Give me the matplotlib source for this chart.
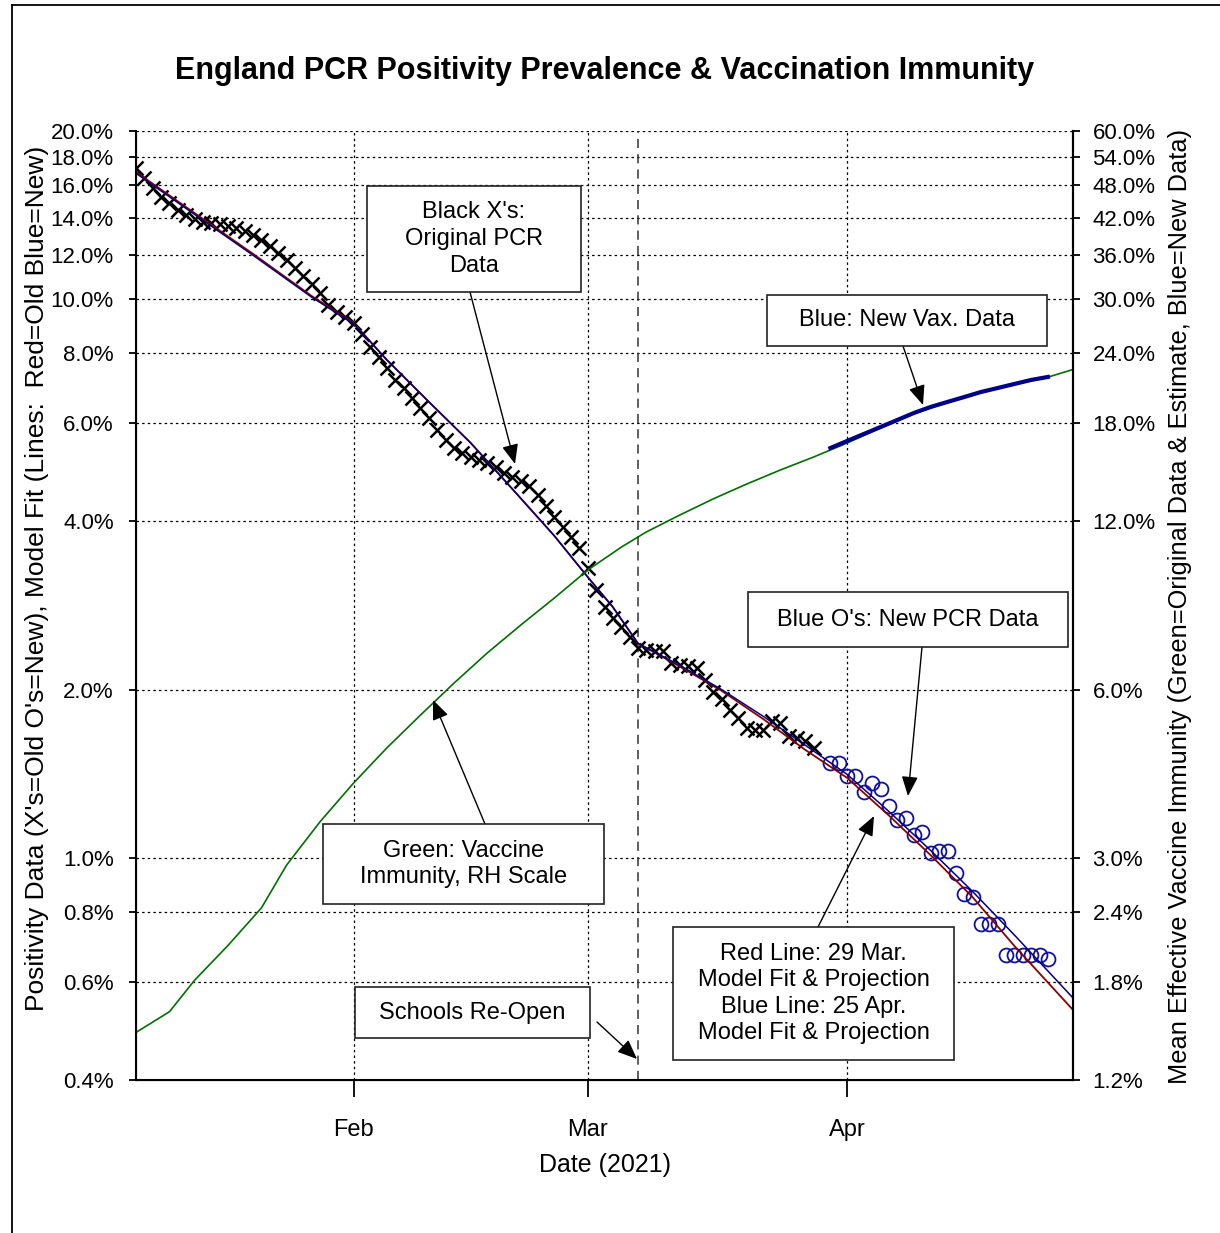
import pandas as pd
import matplotlib
matplotlib.use('Agg')
import matplotlib.pyplot as plt
from matplotlib.patches import Rectangle, FancyArrowPatch
from matplotlib.lines import Line2D
from matplotlib.ticker import FixedLocator, FuncFormatter, NullLocator

plt.rcParams['font.family'] = ['Liberation Sans', 'DejaVu Sans']

# original PCR positivity data (black X's), daily, %
pcr_old_dates = pd.date_range('2021-01-06', '2021-03-28')
pcr_old = [17.17, 16.48, 15.81, 15.24, 14.86, 14.44, 14.15, 13.91, 13.74, 13.69,
           13.63, 13.52, 13.41, 13.24, 13.03, 12.76, 12.45, 12.10, 11.75, 11.37,
           11.00, 10.64, 10.26, 9.76, 9.49, 9.29,
           9.07, 8.66, 8.21, 7.88, 7.53, 7.17, 6.93, 6.65, 6.38, 6.13,
           5.83, 5.59, 5.41, 5.30, 5.22, 5.15, 5.09, 5.01, 4.88, 4.80,
           4.72, 4.63, 4.46, 4.26, 4.07, 3.91, 3.75, 3.59,
           3.30, 3.02, 2.81, 2.69, 2.59, 2.48, 2.37, 2.35, 2.34, 2.34,
           2.23, 2.21, 2.20, 2.19, 2.08, 1.98, 1.92, 1.84, 1.78, 1.71,
           1.69, 1.69, 1.76, 1.74, 1.65, 1.64, 1.62, 1.57]

# new PCR positivity data (blue O's)
pcr_new_dates = pd.date_range('2021-03-30', '2021-04-25')
pcr_new = [1.48, 1.48, 1.40, 1.40, 1.31, 1.36, 1.33, 1.24, 1.17, 1.18,
           1.10, 1.11, 1.02, 1.03, 1.03, 0.94, 0.86, 0.85, 0.76, 0.76,
           0.76, 0.67, 0.67, 0.67, 0.67, 0.67, 0.66]

# model fits
fit_dates = pd.to_datetime(['2021-01-06', '2021-01-13', '2021-01-20', '2021-01-27',
                            '2021-02-01', '2021-02-05', '2021-02-10', '2021-02-15',
                            '2021-02-20', '2021-02-25', '2021-03-01', '2021-03-04',
                            '2021-03-07', '2021-03-12', '2021-03-17', '2021-03-22',
                            '2021-03-27', '2021-04-01', '2021-04-06', '2021-04-11',
                            '2021-04-16', '2021-04-21', '2021-04-28'])
fit_red = [16.89, 14.26, 12.05, 10.13, 9.07, 7.78, 6.55, 5.53, 4.57, 3.77, 3.18, 2.81,
           2.42, 2.20, 1.99, 1.77, 1.56, 1.39, 1.19, 1.01, 0.85, 0.695, 0.534]
fit_blue = [16.80, 14.18, 11.98, 10.08, 9.04, 7.78, 6.55, 5.53, 4.57, 3.77, 3.18, 2.81,
            2.42, 2.21, 2.00, 1.79, 1.59, 1.41, 1.21, 1.03, 0.87, 0.727, 0.561]

# vaccine immunity (right scale), %
vax_dates = pd.to_datetime(['2021-01-06', '2021-01-10', '2021-01-13', '2021-01-17',
                            '2021-01-21', '2021-01-24', '2021-01-28', '2021-02-01',
                            '2021-02-05', '2021-02-09', '2021-02-13', '2021-02-17',
                            '2021-02-21', '2021-02-25', '2021-03-01', '2021-03-05',
                            '2021-03-08', '2021-03-12', '2021-03-16', '2021-03-20',
                            '2021-03-24', '2021-03-28', '2021-04-01', '2021-04-05',
                            '2021-04-09', '2021-04-13', '2021-04-17', '2021-04-21',
                            '2021-04-25', '2021-04-28'])
vax_orig = [1.46, 1.59, 1.81, 2.09, 2.44, 2.91, 3.48, 4.08, 4.72, 5.40,
            6.16, 6.98, 7.83, 8.75, 9.82, 10.79, 11.49, 12.32, 13.17, 14.00,
            14.83, 15.65, 16.58, 17.64, 18.72, 19.60, 20.42, 21.12, 21.75, 22.45]

# new vaccination data (blue, right scale), every 2 days
vax_new_dates = pd.date_range('2021-03-30', '2021-04-25', freq='2D')
vax_new = [16.24, 16.72, 17.21, 17.71, 18.23, 18.77, 19.24, 19.64, 20.04, 20.46,
           20.80, 21.15, 21.50, 21.77]

schools_reopen = pd.Timestamp('2021-03-07')

left_ticks = [20, 18, 16, 14, 12, 10, 8, 6, 4, 2, 1, 0.8, 0.6, 0.4]
right_ticks = [60, 54, 48, 42, 36, 30, 24, 18, 12, 6, 3, 2.4, 1.8, 1.2]
month_ticks = pd.to_datetime(['2021-02-01', '2021-03-01', '2021-04-01'])
month_labels = ['Feb', 'Mar', 'Apr']

W, H = 1220, 1233
fig = plt.figure(figsize=(W / 100, H / 100), dpi=100)


def fx(x):
    return x / W


def fy(y):
    return 1 - y / H


ax = fig.add_axes([fx(136), fy(1080), fx(1073) - fx(136), fy(131) - fy(1080)])

ax.set_yscale('log')
ax.set_ylim(0.4, 20)
ax.set_xlim(pd.Timestamp('2021-01-06'), pd.Timestamp('2021-04-28'))

ax.plot(pcr_old_dates, pcr_old, linestyle='none', marker='x', ms=10.5, mew=1.8,
        color='black', zorder=3)
ax.plot(pcr_new_dates, pcr_new, linestyle='none', marker='o', ms=10, mew=1.3,
        mfc='none', mec='#1010a0', zorder=3)
ax.plot(fit_dates, fit_red, color='#8b0000', lw=1.3, zorder=4)
ax.plot(fit_dates, fit_blue, color='#000080', lw=1.1, zorder=4)

ax.axvline(schools_reopen, color='#333333', lw=1.1, linestyle=(0, (6, 4)), zorder=2)

ax.yaxis.set_major_locator(FixedLocator(left_ticks))
ax.yaxis.set_minor_locator(NullLocator())
ax.yaxis.set_major_formatter(FuncFormatter(lambda v, p: '%.1f%%' % v))
ax.set_xticks(month_ticks)
ax.set_xticklabels(month_labels)
ax.grid(True, color='black', linestyle=(0, (2, 2.5)), lw=0.9)

for s in ['left', 'right', 'bottom']:
    ax.spines[s].set_linewidth(1.5)
ax.spines['top'].set_visible(False)
ax.tick_params(axis='y', direction='out', length=5, width=1.3, labelsize=16, pad=11)
ax.tick_params(axis='x', direction='out', length=12, width=1.3, labelsize=17, pad=16)

ax2 = ax.twinx()
ax2.set_yscale('log')
ax2.set_ylim(1.2, 60)
ax2.plot(vax_dates, vax_orig, color='#007000', lw=1.2)
ax2.plot(vax_new_dates, vax_new, color='#00008b', lw=3)
ax2.yaxis.set_major_locator(FixedLocator(right_ticks))
ax2.yaxis.set_minor_locator(NullLocator())
ax2.yaxis.set_major_formatter(FuncFormatter(lambda v, p: '%.1f%%' % v))
ax2.tick_params(axis='y', direction='out', length=5, width=1.3, labelsize=16, pad=9)
ax2.spines['top'].set_visible(False)
ax2.spines['right'].set_linewidth(1.5)

fig.text(fx(605), fy(71), 'England PCR Positivity Prevalence & Vaccination Immunity',
         ha='center', va='center', fontsize=22, fontweight='bold')
fig.text(fx(605), fy(1165), 'Date (2021)', ha='center', va='center', fontsize=18)
fig.text(fx(37), fy(578),
         "Positivity Data (X's=Old O's=New), Model Fit (Lines:  Red=Old Blue=New)",
         ha='center', va='center', rotation=90, fontsize=19)
fig.text(fx(1180), fy(606),
         'Mean Effective Vaccine Immunity (Green=Original Data & Estimate, Blue=New Data)',
         ha='center', va='center', rotation=90, fontsize=18.3)

# outer frame
fig.add_artist(Line2D([fx(12), fx(12)], [0, fy(5)], color='black', lw=1.3))
fig.add_artist(Line2D([fx(12), 1], [fy(5), fy(5)], color='black', lw=1.3))


def note(x0, y0, x1, y1, text, start, tip):
    fig.add_artist(Rectangle((fx(x0), fy(y1)), fx(x1) - fx(x0), fy(y0) - fy(y1),
                             transform=fig.transFigure, facecolor='white',
                             edgecolor='#222222', lw=1.2, zorder=10))
    fig.text(fx((x0 + x1) / 2), fy((y0 + y1) / 2), text, ha='center', va='center',
             fontsize=17, linespacing=1.27, zorder=11)
    fig.add_artist(FancyArrowPatch(
        (fx(start[0]), fy(start[1])), (fx(tip[0]), fy(tip[1])),
        transform=fig.transFigure, arrowstyle='-|>,head_length=0.6,head_width=0.25',
        mutation_scale=20, color='black', lw=1.0, zorder=9, shrinkA=0, shrinkB=0))


note(367, 186, 581, 292, "Black X's:\nOriginal PCR\nData", (470, 292), (515, 464))
note(767, 295, 1047, 346, 'Blue: New Vax. Data', (903, 346), (923, 405))
note(748, 592, 1068, 647, "Blue O's: New PCR Data", (922, 647), (908, 796))
note(323, 824, 604, 904, 'Green: Vaccine\nImmunity, RH Scale', (485, 824), (433, 700))
note(355, 987, 590, 1038, 'Schools Re-Open', (597, 1022), (637, 1059))
note(673, 927, 954, 1060,
     'Red Line: 29 Mar.\nModel Fit & Projection\nBlue Line: 25 Apr.\nModel Fit & Projection',
     (818, 927), (874, 816))

fig.savefig('out.png', dpi=100)
